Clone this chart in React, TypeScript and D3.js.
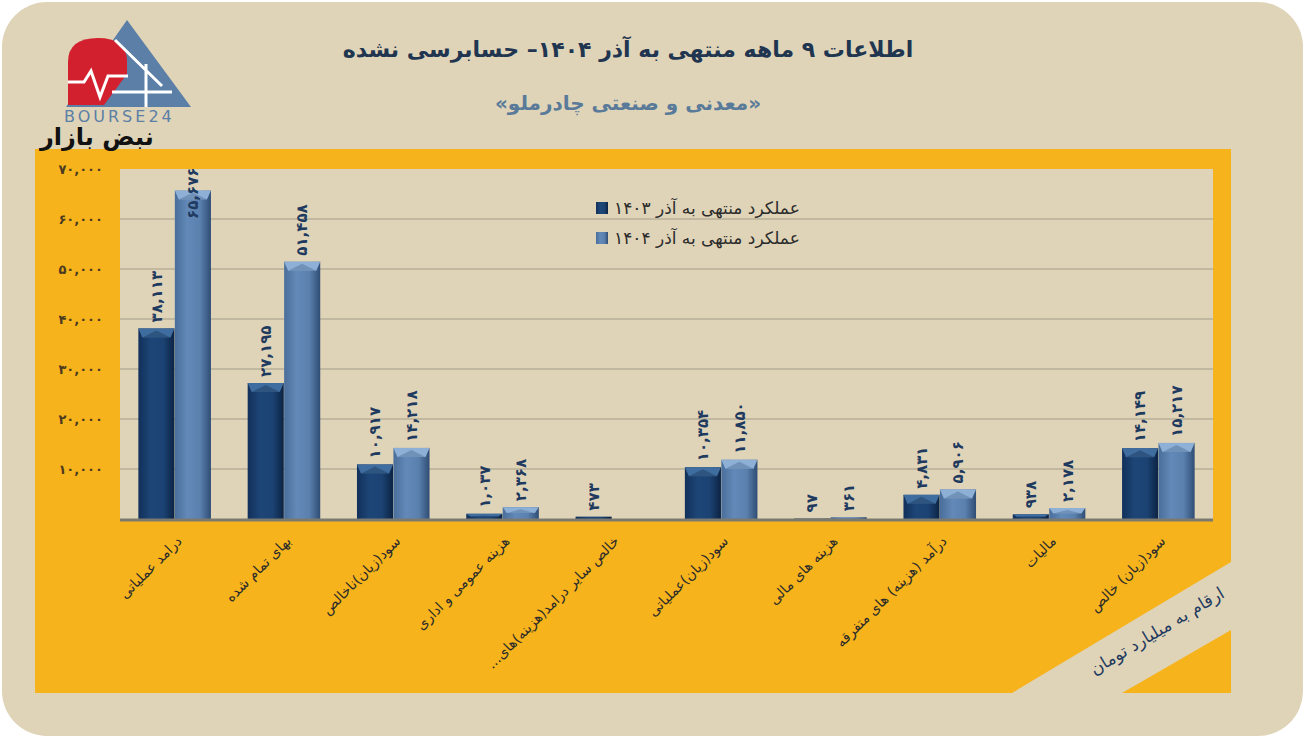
import * as d3 from "d3";

// categories (Persian, as in the source chart)
const categories = [
  "درامد عملیاتی",
  "بهای تمام شده",
  "سود(زیان)ناخالص",
  "هزینه عمومی و اداری",
  "خالص سایر درامد(هزینه)های...\u200F",
  "سود(زیان)عملیاتی",
  "هزینه های مالی",
  "درآمد (هزینه) های متفرقه",
  "مالیات",
  "سود(زیان) خالص",
];

const values1403 = [38113, 27195, 10917, 1037, 473, 10354, 97, 4831, 938, 14149];
const values1404 = [65676, 51458, 14218, 2368, null, 11850, 361, 5906, 2178, 15217];

const seriesNames = ["عملکرد منتهی به آذر ۱۴۰۳", "عملکرد منتهی به آذر ۱۴۰۴"];
const yTicks = [10000, 20000, 30000, 40000, 50000, 60000, 70000];

const FA = "DejaVu Sans, sans-serif";

const toFa = (s: string) => s.replace(/\d/g, (c) => "۰۱۲۳۴۵۶۷۸۹"[+c]);
const fmt = (v: number) => toFa(d3.format(",")(v));

export default function App() {
  const W = 1305;
  const H = 738;
  const plot = { l: 120, r: 1213, t: 169, b: 519 };

  const x0 = d3.scaleBand<string>().domain(categories).range([plot.l, plot.r]).padding(0);
  const x1 = d3
    .scaleBand<string>()
    .domain(["a", "b"])
    .range([18, x0.bandwidth() - 18])
    .padding(0.01);
  const y = d3.scaleLinear().domain([0, 70000]).range([plot.b, plot.t]);

  const series = [
    { key: "a", vals: values1403, grad: "gDark", top: "#3f6d9f", side: "#0f2848" },
    { key: "b", vals: values1404, grad: "gLight", top: "#8eb0d6", side: "#3a5a82" },
  ];

  return (
    <svg
      width={W}
      height={H}
      style={{ position: "absolute", left: 0, top: 0, display: "block", background: "#fff" }}
    >
      <defs>
        <linearGradient id="gDark" x1="0" x2="1" y1="0" y2="0">
          <stop offset="0" stopColor="#12305a" />
          <stop offset="0.35" stopColor="#1d4677" />
          <stop offset="0.7" stopColor="#1b4272" />
          <stop offset="1" stopColor="#0c2343" />
        </linearGradient>
        <linearGradient id="gLight" x1="0" x2="1" y1="0" y2="0">
          <stop offset="0" stopColor="#4a6e9a" />
          <stop offset="0.35" stopColor="#6289b8" />
          <stop offset="0.7" stopColor="#5a80ae" />
          <stop offset="1" stopColor="#2f4d74" />
        </linearGradient>
      </defs>

      {/* background card */}
      <rect x={2} y={2} width={W - 4} height={H - 4} rx={45} fill="#dfd4b8" />

      {/* titles */}
      <text x={628} y={57} textAnchor="middle" fontFamily={FA} fontSize={22} fontWeight="bold" fill="#1f3550">
        اطلاعات ۹ ماهه منتهی به آذر ۱۴۰۴– حسابرسی نشده
      </text>
      <text x={628} y={110} textAnchor="middle" fontFamily={FA} fontSize={20} fontWeight="bold" fill="#5a7a99">
        {"\u200F«معدنی و صنعتی چادرملو»\u200F"}
      </text>

      {/* yellow panel with cut corner */}
      <polygon points="35,149 1231,149 1231,562 1012,693 35,693" fill="#f6b31b" />
      <polygon points="1231,630 1231,693 1122,693" fill="#f6b31b" />
      <text
        transform="translate(1160,636) rotate(-31)"
        textAnchor="middle"
        fontFamily={FA}
        fontSize={17}
        fill="#1f3a5f"
      >
        ارقام به میلیارد تومان
      </text>

      {/* logo */}
      <g>
        <polygon points="127,20 191,107 66,107" fill="#5b7fa6" />
        <path d="M68,105 L68,62 Q68,38 98,38 Q126,38 127,60 L127,74 L104,105 Z" fill="#d3202f" />
        <polyline
          points="68,82 84,82 91,71 100,97 108,76 128,76"
          fill="none"
          stroke="#fff"
          strokeWidth={3}
        />
        <path d="M115,40 L162,86 M112,92 L172,92 M146,64 L146,107" stroke="#fff" strokeWidth={3} fill="none" />
        <text x={64} y={122} fontFamily="DejaVu Sans, sans-serif" fontSize={16} letterSpacing={3} fill="#5b7fa6">
          BOURSE24
        </text>
        <text x={40} y={145} fontFamily={FA} fontSize={24} fontWeight="bold" fill="#111">
          نبض بازار
        </text>
      </g>

      {/* plot area */}
      <rect x={plot.l} y={plot.t} width={plot.r - plot.l} height={plot.b - plot.t} fill="#dfd4b8" />
      {yTicks.slice(0, -1).map((t) => (
        <line key={t} x1={plot.l} x2={plot.r} y1={y(t)} y2={y(t)} stroke="#a39c89" strokeWidth={1} />
      ))}
      {yTicks.map((t) => (
        <text
          key={"l" + t}
          x={103}
          y={y(t)}
          dy="0.35em"
          textAnchor="end"
          fontFamily={FA}
          fontSize={13}
          fontWeight="bold"
          fill="#4b3a20"
        >
          {fmt(t)}
        </text>
      ))}

      {/* bars */}
      {categories.map((c, i) => (
        <g key={c} transform={`translate(${x0(c)},0)`}>
          {series.map((s) => {
            const v = s.vals[i];
            if (v == null) return null;
            const bx = x1(s.key)!;
            const bw = x1.bandwidth();
            const by = y(v);
            const bh = plot.b - by;
            const bev = Math.min(9, bh / 2);
            const ly = Math.max(by - 6, plot.t + 50);
            return (
              <g key={s.key}>
                <rect x={bx} y={by} width={bw} height={bh} fill={`url(#${s.grad})`} />
                {bh > 4 && (
                  <>
                    <polygon
                      points={`${bx},${by} ${bx + bw},${by} ${bx + bw - 4},${by + bev} ${bx + 4},${by + bev}`}
                      fill={s.top}
                    />
                    <polygon
                      points={`${bx + 4},${by + bev} ${bx + bw - 4},${by + bev} ${bx + bw / 2},${by + 2}`}
                      fill={s.side}
                      opacity={0.35}
                    />
                  </>
                )}
                <text
                  transform={`translate(${bx + bw / 2},${ly}) rotate(-90)`}
                  dy="0.35em"
                  textAnchor="start"
                  fontFamily={FA}
                  fontSize={15}
                  fontWeight="bold"
                  fill="#1f3a5f"
                >
                  {fmt(v)}
                </text>
              </g>
            );
          })}
        </g>
      ))}
      <line x1={plot.l} x2={plot.r} y1={plot.b + 1} y2={plot.b + 1} stroke="#7c7a6e" strokeWidth={3} />

      {/* category labels */}
      {categories.map((c) => {
        const cx = x0(c)! + x0.bandwidth() / 2 + 8;
        return (
          <text
            key={"c" + c}
            transform={`translate(${cx},${542}) rotate(-45)`}
            textAnchor="end"
            fontFamily={FA}
            fontSize={14}
            fill="#2b2b2b"
          >
            {c}
          </text>
        );
      })}

      {/* legend */}
      {series.map((s, i) => (
        <g key={"lg" + s.key} transform={`translate(596,${202 + i * 30})`}>
          <rect width={12} height={12} fill={`url(#${s.grad})`} />
          <text x={18} y={6} dy="0.35em" fontFamily={FA} fontSize={17} fill="#2b2b2b">
            {seriesNames[i]}
          </text>
        </g>
      ))}
    </svg>
  );
}
